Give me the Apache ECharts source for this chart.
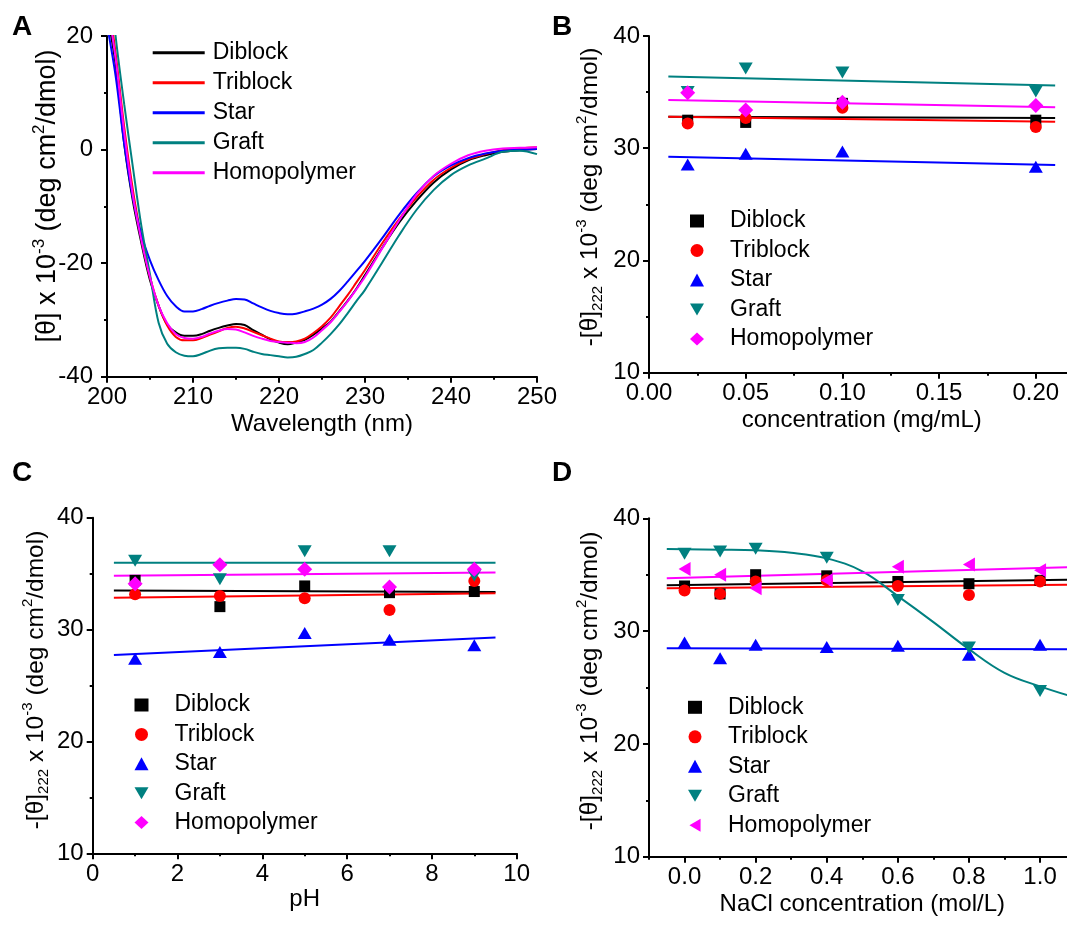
<!DOCTYPE html>
<html>
<head>
<meta charset="utf-8">
<script src="https://cdn.jsdelivr.net/npm/echarts@6/dist/echarts.min.js"></script>
<style>
html, body { margin: 0; padding: 0; background: #fff; }
#chart { width: 1067px; height: 925px; }
</style>
</head>
<body>
<div id="chart"></div>
<script>
// ---------- data ----------
var names = ['Diblock', 'Triblock', 'Star', 'Graft', 'Homopolymer'];
var colors = ['#000000', '#ff0000', '#0000ff', '#008080', '#ff00ff'];

// A: CD spectra
var wavelength = [200, 201, 202, 203, 204, 205, 206, 207, 208, 209, 210, 211, 212, 213, 214, 215, 216, 217, 218, 219, 220,
  221, 222, 223, 224, 225, 226, 227, 228, 229, 230, 232, 234, 236, 238, 240, 242, 244, 246, 248, 250];
var cdDiblock = [24, 15, 1, -9, -16.5, -23, -27.5, -30.8, -32.2, -32.8, -32.8, -32.5, -31.9, -31.4, -31, -30.7, -30.9, -31.8, -32.6, -33.4, -34.0,
  -34.3, -34.0, -33.5, -32.6, -31.5, -30.3, -28.5, -26.6, -24.5, -22.1, -17.3, -12.8, -9.0, -5.8, -3.5, -1.9, -1.0, -0.4, -0.1, 0.1];
var cdTriblock = [28, 17, 4, -7, -15.5, -22.5, -27.5, -31, -33, -33.6, -33.6, -33.2, -32.6, -32, -31.4, -31.2, -31.5, -32.1, -32.7, -33.3, -33.8,
  -33.9, -33.8, -33.3, -32.3, -31.1, -29.6, -27.6, -25.6, -23.4, -21.2, -16.5, -12.2, -8.4, -5.3, -3.2, -1.7, -0.8, -0.1, 0.2, 0.4];
var cdStar = [22, 13, 1, -8.5, -15, -19.5, -23, -25.8, -27.6, -28.5, -28.5, -28.1, -27.5, -27, -26.6, -26.3, -26.4, -27.1, -27.8, -28.4, -28.8,
  -29, -28.9, -28.5, -28, -27.3, -26.3, -24.9, -23.2, -21.4, -19.6, -15.6, -11.4, -7.7, -4.7, -2.8, -1.5, -0.7, -0.2, 0, 0.1];
var cdGraft = [35, 20, 8, -3, -13.5, -22, -30.5, -34.2, -35.7, -36.3, -36.4, -36, -35.4, -35, -34.9, -34.9, -35.1, -35.6, -36.0, -36.2, -36.4,
  -36.6, -36.5, -36.0, -35.3, -34.0, -32.5, -30.8, -28.8, -26.7, -24.7, -19.9, -15, -10.6, -7.1, -4.5, -2.8, -1.6, -0.4, -0.2, -0.8];
var cdHomo = [26, 16, 3, -8, -16, -22.5, -27.5, -30.6, -32.5, -33.2, -33.3, -33, -32.4, -31.9, -31.6, -31.7, -32.2, -32.8, -33.3, -33.7, -33.9,
  -34.0, -34.1, -33.9, -33.1, -31.8, -30.4, -28.6, -26.7, -24.6, -22.4, -17.4, -12.4, -7.9, -4.6, -2.5, -1.0, -0.2, 0.2, 0.3, 0.4];

// B: concentration (mg/mL)
var concX = [0.02, 0.05, 0.10, 0.20];
var concDiblock = [32.5, 32.3, 34.0, 32.5];
var concTriblock = [32.2, 32.7, 33.6, 31.9];
var concStar = [28.55, 29.5, 29.7, 28.35];
var concGraft = [35.0, 37.1, 36.75, 35.05];
var concHomo = [34.95, 33.4, 34.1, 33.8];
var concFitX = [0.01, 0.21];
var concFitDiblock = [32.8, 32.7];
var concFitTriblock = [32.8, 32.35];
var concFitStar = [29.25, 28.5];
var concFitGraft = [36.4, 35.6];
var concFitHomo = [34.3, 33.65];

// C: pH
var phX = [1, 3, 5, 7, 9];
var phDiblock = [34.4, 32.05, 33.9, 33.3, 33.4];
var phTriblock = [33.15, 33.0, 32.8, 31.75, 34.35];
var phStar = [27.4, 28.0, 29.7, 29.1, 28.6];
var phGraft = [36.15, 34.5, 37.0, 37.0, 34.8];
var phHomo = [34.1, 35.8, 35.4, 33.8, 35.4];
var phFitX = [0.5, 9.5];
var phFitDiblock = [33.5, 33.35];
var phFitTriblock = [32.85, 33.24];
var phFitStar = [27.73, 29.28];
var phFitGraft = [35.98, 35.98];
var phFitHomo = [34.8, 35.1];

// D: NaCl concentration (mol/L)
var saltX = [0, 0.1, 0.2, 0.4, 0.6, 0.8, 1.0];
var saltDiblock = [34.0, 33.3, 35.0, 34.9, 34.4, 34.2, 34.5];
var saltTriblock = [33.6, 33.3, 34.4, 34.5, 34.0, 33.2, 34.4];
var saltStar = [29.0, 27.6, 28.8, 28.6, 28.7, 27.9, 28.8];
var saltGraft = [36.85, 37.05, 37.3, 36.5, 32.75, 28.55, 24.7];
var saltHomo = [35.5, 35.0, 33.8, 34.5, 35.7, 35.9, 35.4];
var saltFitX = [-0.05, 1.1];
var saltFitDiblock = [34.06, 34.56];
var saltFitTriblock = [33.8, 34.12];
var saltFitStar = [28.47, 28.4];
var saltFitHomo = [34.68, 35.68];
var saltCurveX = [-0.05, 0.1, 0.2, 0.3, 0.4, 0.5, 0.6, 0.7, 0.8, 0.9, 1.0, 1.1];
var saltCurveGraft = [37.28, 37.22, 37.16, 36.95, 36.45, 35.3, 33.1, 30.8, 28.4, 26.3, 25.1, 24.1];

// tick values
var concTicks = [0, 0.05, 0.10, 0.15, 0.20];
var concMinor = [0.025, 0.075, 0.125, 0.175];
var saltTicks = [0, 0.2, 0.4, 0.6, 0.8, 1.0];
var saltMinor = [-0.1, 0.1, 0.3, 0.5, 0.7, 0.9, 1.1];

// ---------- helpers ----------
var FONT = 'Liberation Sans';
function pairs(xs, ys) { return xs.map(function (x, i) { return [x, ys[i]]; }); }
function merge(a, b) { for (var k in b) a[k] = b[k]; return a; }

function axisBase(extra) {
  return merge({
    axisLine: { onZero: false, lineStyle: { color: '#000', width: 2 } },
    axisTick: { inside: false, length: 6, lineStyle: { color: '#000', width: 2 } },
    minorTick: { show: true, splitNumber: 2, length: 3, lineStyle: { color: '#000', width: 2 } },
    splitLine: { show: false },
    axisLabel: { color: '#000', fontSize: 24, fontFamily: FONT, margin: 9 },
    nameTextStyle: { color: '#000', fontSize: 24, fontFamily: FONT }
  }, extra);
}

// rotated y titles (rich text for super/subscripts)
function yTitle(text, x, y, size) {
  var small = Math.round(size * 0.62);
  return {
    type: 'text', x: x, y: y, rotation: Math.PI / 2, silent: true,
    style: {
      text: text, fontSize: size, fontFamily: FONT, fill: '#000',
      align: 'center', verticalAlign: 'middle', lineHeight: Math.round(size * 1.25),
      rich: {
        sup: { fontSize: small, lineHeight: small, verticalAlign: 'top', fontFamily: FONT, fill: '#000' },
        sub: { fontSize: small, lineHeight: small, verticalAlign: 'bottom', fontFamily: FONT, fill: '#000' }
      }
    }
  };
}
var thetaA = '[θ] x 10{sup|-3} (deg cm{sup|2}/dmol)';
var theta222 = '-[θ]{sub|222} x 10{sup|-3} (deg cm{sup|2}/dmol)';

var series = [];
// A lines
[cdDiblock, cdTriblock, cdStar, cdGraft, cdHomo].forEach(function (ys, k) {
  series.push({
    name: 'A:' + names[k], type: 'line', xAxisIndex: 0, yAxisIndex: 0,
    data: pairs(wavelength, ys), symbol: 'none', smooth: 0.35,
    lineStyle: { color: colors[k], width: 2 }, itemStyle: { color: colors[k] }
  });
});

var symB = ['rect', 'circle', 'triangle', 'triangle', 'diamond'];
var symD = ['rect', 'circle', 'triangle', 'triangle', 'triangle'];
var rotB = [0, 0, 0, 180, 0];
var rotD = [0, 0, 0, 180, 90];
var sizesB = [11, 12, [14, 12], [14, 12], 15];
var sizesD = [11, 12, [14, 12], [14, 12], [14, 12]];
var iconDown = 'path://M0,0L14,0L7,12Z';
var iconLeft = 'path://M12,0L12,14L0,7Z';
var iconsB = ['rect', 'circle', 'triangle', iconDown, 'diamond'];
var iconsD = ['rect', 'circle', 'triangle', iconDown, iconLeft];

function addPanel(tag, gi, xs, groups, fitX, fits, syms, rots, szs) {
  fits.forEach(function (f, k) {
    series.push({
      name: tag + ':fit' + k, type: 'line', xAxisIndex: gi, yAxisIndex: gi,
      data: pairs(f.x || fitX, f.y || f), symbol: 'none', smooth: f.x ? 0.4 : false, z: 2,
      lineStyle: { color: colors[k], width: 2 }
    });
  });
  groups.forEach(function (ys, k) {
    series.push({
      name: tag + ':' + names[k], type: 'scatter', xAxisIndex: gi, yAxisIndex: gi,
      data: pairs(xs, ys), symbol: syms[k], symbolRotate: rots[k], symbolSize: szs[k], z: 3,
      itemStyle: { color: colors[k], opacity: 1 }
    });
  });
}

addPanel('B', 1, concX, [concDiblock, concTriblock, concStar, concGraft, concHomo], concFitX,
  [concFitDiblock, concFitTriblock, concFitStar, concFitGraft, concFitHomo], symB, rotB, sizesB);
addPanel('C', 2, phX, [phDiblock, phTriblock, phStar, phGraft, phHomo], phFitX,
  [phFitDiblock, phFitTriblock, phFitStar, phFitGraft, phFitHomo], symB, rotB, sizesB);
addPanel('D', 3, saltX, [saltDiblock, saltTriblock, saltStar, saltGraft, saltHomo], saltFitX,
  [saltFitDiblock, saltFitTriblock, saltFitStar, { x: saltCurveX, y: saltCurveGraft }, saltFitHomo], symD, rotD, sizesD);

function legendFor(tag, left, top, icons, opts) {
  return merge({
    orient: 'vertical', left: left, top: top, padding: 0, itemGap: 5.5,
    data: names.map(function (n, k) {
      var d = { name: tag + ':' + n };
      if (icons) d.icon = icons[k];
      return d;
    }),
    formatter: function (n) { return n.slice(2); },
    itemWidth: 14, itemHeight: 13,
    textStyle: { color: '#000', fontSize: 23, fontFamily: FONT, lineHeight: 24, padding: [0, 0, 0, 21] },
    selectedMode: false
  }, opts);
}

var chart = echarts.init(document.getElementById('chart'));
chart.setOption({
  animation: false,
  backgroundColor: '#fff',
  title: [
    { text: 'A', left: 12, top: 13 },
    { text: 'B', left: 552, top: 13 },
    { text: 'C', left: 12, top: 459 },
    { text: 'D', left: 552, top: 459 }
  ].map(function (t) {
    t.padding = 0;
    t.textStyle = { fontSize: 28, fontWeight: 'bold', fontFamily: FONT, color: '#000' };
    return t;
  }),
  graphic: [
    yTitle(thetaA, 48, 196, 27),
    yTitle(theta222, 590, 197, 24.5),
    yTitle(theta222, 36, 680, 24.5),
    yTitle(theta222, 590, 681, 24.5)
  ],
  grid: [
    { left: 107, top: 36, width: 430, height: 340.7, outerBoundsMode: 'none' },
    { left: 649, top: 36, width: 425.5, height: 336.7, outerBoundsMode: 'none' },
    { left: 92.7, top: 517.7, width: 424, height: 335.6, outerBoundsMode: 'none' },
    { left: 649, top: 518.3, width: 426.6, height: 338.4, outerBoundsMode: 'none' },
    { left: 649, top: 36, width: 425.5, height: 336.7, outerBoundsMode: 'none' },
    { left: 649, top: 518.3, width: 426.6, height: 338.4, outerBoundsMode: 'none' }
  ],
  xAxis: [
    axisBase({ gridIndex: 0, type: 'value', min: 200, max: 250, interval: 10,
      name: 'Wavelength (nm)', nameLocation: 'middle', nameGap: 36 }),
    axisBase({ gridIndex: 1, type: 'value', min: 0, max: 0.22,
      axisTick: { length: 6, customValues: concTicks, lineStyle: { color: '#000', width: 2 } },
      minorTick: { show: false },
      axisLabel: { color: '#000', fontSize: 24, fontFamily: FONT, margin: 9, customValues: concTicks,
        formatter: function (v) { return v.toFixed(2); } },
      name: 'concentration (mg/mL)', nameLocation: 'middle', nameGap: 36 }),
    axisBase({ gridIndex: 2, type: 'value', min: 0, max: 10, interval: 2,
      name: 'pH', nameLocation: 'middle', nameGap: 31 }),
    axisBase({ gridIndex: 3, type: 'value', min: -0.1, max: 1.1,
      axisTick: { length: 6, customValues: saltTicks, lineStyle: { color: '#000', width: 2 } },
      minorTick: { show: false },
      axisLabel: { color: '#000', fontSize: 24, fontFamily: FONT, margin: 9, customValues: saltTicks,
        formatter: function (v) { return v.toFixed(1); } },
      name: 'NaCl concentration (mol/L)', nameLocation: 'middle', nameGap: 36 }),
    { gridIndex: 4, type: 'value', min: 0, max: 0.22, axisLine: { show: false }, axisLabel: { show: false },
      splitLine: { show: false },
      axisTick: { length: 3, customValues: concMinor, lineStyle: { color: '#000', width: 2 } } },
    { gridIndex: 5, type: 'value', min: -0.1, max: 1.1, axisLine: { show: false }, axisLabel: { show: false },
      splitLine: { show: false },
      axisTick: { length: 3, customValues: saltMinor, lineStyle: { color: '#000', width: 2 } } }
  ],
  yAxis: [
    axisBase({ gridIndex: 0, type: 'value', min: -40, max: 20, interval: 20,
      axisLabel: { color: '#000', fontSize: 24, fontFamily: FONT, margin: 14 } }),
    axisBase({ gridIndex: 1, type: 'value', min: 10, max: 40, interval: 10 }),
    axisBase({ gridIndex: 2, type: 'value', min: 10, max: 40, interval: 10 }),
    axisBase({ gridIndex: 3, type: 'value', min: 10, max: 40, interval: 10 }),
    { gridIndex: 4, type: 'value', min: 10, max: 40, show: false },
    { gridIndex: 5, type: 'value', min: 10, max: 40, show: false }
  ],
  legend: [
    legendFor('A', 152.7, 40.7, null, { icon: 'rect', itemWidth: 52, itemHeight: 3, itemGap: 6,
      lineStyle: { width: 3 },
      textStyle: { color: '#000', fontSize: 23, fontFamily: FONT, lineHeight: 24, padding: [0, 0, 0, 3] } }),
    legendFor('B', 690, 209, iconsB, {}),
    legendFor('C', 134.5, 693, iconsB, { itemGap: 5.4 }),
    legendFor('D', 688, 695.3, iconsD, {})
  ],
  series: series
});
</script>
</body>
</html>
